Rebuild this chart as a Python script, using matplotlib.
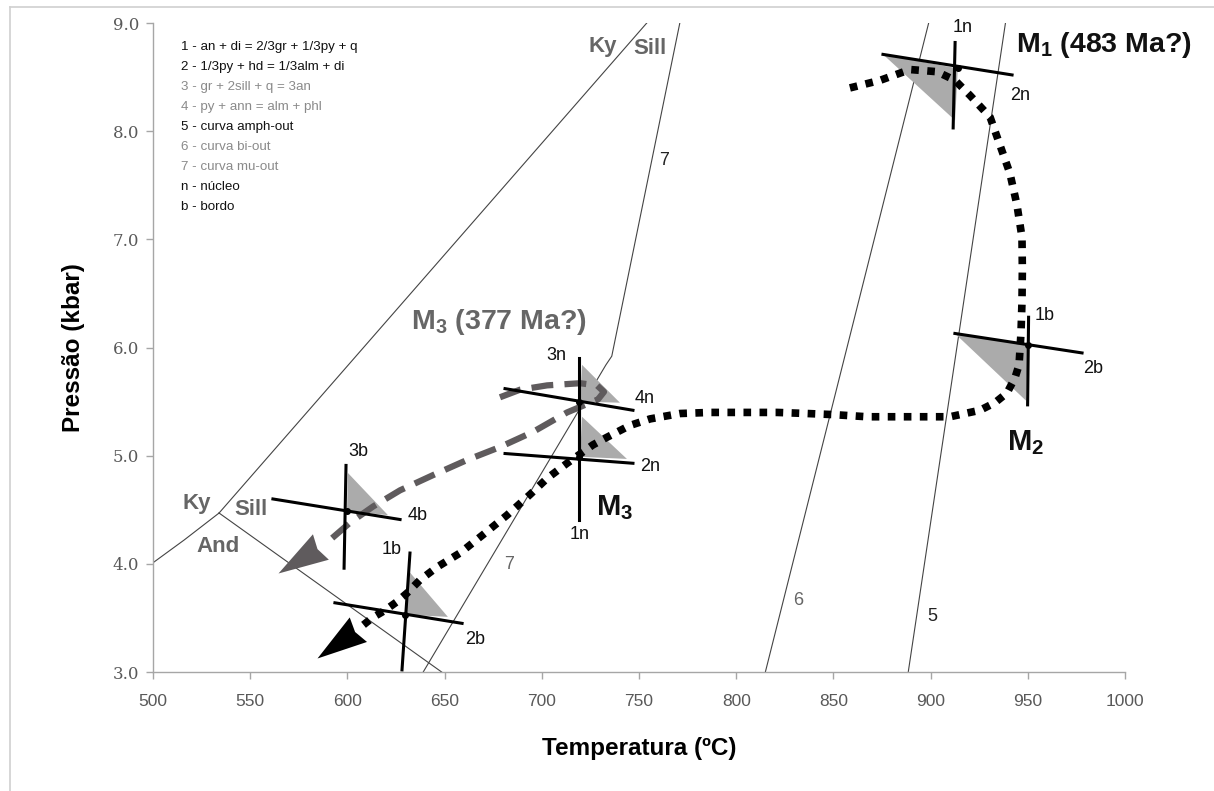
import numpy as np
import matplotlib
matplotlib.use('Agg')
import matplotlib.pyplot as plt
from matplotlib.lines import Line2D
from matplotlib.markers import MarkerStyle
from matplotlib.path import Path
from matplotlib.transforms import Affine2D

plt.rcParams['font.family'] = ['Liberation Sans', 'DejaVu Sans']
plt.rcParams['mathtext.fontset'] = 'custom'
plt.rcParams['mathtext.rm'] = 'Liberation Sans'
plt.rcParams['mathtext.bf'] = 'Liberation Sans:bold'

# ---- dados ----
x_ticks = [500, 550, 600, 650, 700, 750, 800, 850, 900, 950, 1000]
y_ticks = [3.0, 4.0, 5.0, 6.0, 7.0, 8.0, 9.0]

# curvas de reação (T, P)
ky_and_T, ky_and_P = [500, 516, 534], [4.01, 4.22, 4.47]
ky_sill_T, ky_sill_P = [534, 754], [4.47, 9.0]
sill_and_T, sill_and_P = [534, 648.5], [4.47, 3.0]
c7_T, c7_P = [639, 733, 736, 771], [3.0, 5.84, 5.92, 9.0]
c6_T, c6_P = [815, 899], [3.0, 9.0]
c5_T, c5_P = [888.5, 938.5], [3.0, 9.0]

# trajetória M1 -> M2 -> M3 (pontilhada)
path_T = [858.5, 874.0, 889.4, 903.3, 912.6, 920.3, 930.6, 935.7, 940.8, 944.4,
          947.0, 947.2, 947.0, 946.5, 945.5, 943.4, 939.3, 933.1, 925.4, 910.0,
          884.3, 867.3, 849.8, 836.4, 821.0, 803.5, 786.5, 771.1, 755.7, 745.4,
          733.5, 726.3, 713.0, 702.7, 693.9, 682.1, 669.8, 657.9, 646.1, 637.3,
          630.7, 625.5, 619.3, 612.7, 606.5]
path_P = [8.40, 8.47, 8.57, 8.55, 8.47, 8.33, 8.13, 7.87, 7.61, 7.32,
          7.02, 6.72, 6.42, 6.14, 5.84, 5.72, 5.58, 5.49, 5.42, 5.36,
          5.36, 5.36, 5.38, 5.39, 5.40, 5.40, 5.40, 5.39, 5.34, 5.28,
          5.17, 5.10, 4.93, 4.79, 4.64, 4.45, 4.27, 4.10, 3.97, 3.85,
          3.73, 3.65, 3.57, 3.50, 3.41]
path_tip = (584.4, 3.13)

# trajetória M3 (tracejada cinza)
dash_T = [678.5, 688.8, 702.7, 719.7, 728.4, 732.0, 728.9, 713.0, 695.5, 678.5,
          661.5, 644.0, 627.1, 613.2, 601.3, 591.0]
dash_P = [5.54, 5.61, 5.65, 5.67, 5.65, 5.59, 5.52, 5.40, 5.22, 5.08,
          4.96, 4.82, 4.68, 4.53, 4.38, 4.22]
dash_tip = (564.3, 3.92)

# barras (vertical: topo/base, horizontal: esq/dir) e triângulos
cross_vert = [[(912.6, 8.82), (911.6, 8.03)],
              [(950.4, 6.28), (949.9, 5.47)],
              [(719.1, 5.90), (719.1, 5.00)],
              [(719.1, 5.50), (719.1, 4.41)],
              [(599.3, 4.91), (598.3, 3.96)],
              [(632.2, 4.10), (628.1, 3.02)]]
cross_horz = [[(875.5, 8.71), (941.9, 8.52)],
              [(912.5, 6.13), (977.9, 5.95)],
              [(681.1, 5.62), (746.9, 5.42)],
              [(681.1, 5.02), (746.9, 4.93)],
              [(561.7, 4.60), (627.1, 4.41)],
              [(593.6, 3.64), (659.0, 3.45)]]
cross_center = [(914.0, 8.58), (950.1, 6.02), (719.4, 5.50),
                (719.4, 4.99), (599.8, 4.49), (629.6, 3.53)]
triangles = [[(875.5, 8.71), (914.0, 8.58), (912.6, 8.10)],
             [(912.5, 6.13), (950.1, 6.02), (949.0, 5.51)],
             [(720.7, 5.84), (719.7, 5.50), (740.2, 5.49)],
             [(720.7, 5.36), (719.7, 4.99), (743.8, 4.97)],
             [(600.3, 4.84), (599.8, 4.49), (620.9, 4.45)],
             [(632.2, 3.92), (629.6, 3.53), (651.7, 3.51)]]

cross_labels = ['1n', '2n', '1b', '2b', '3n', '4n', '2n', '1n', '3b', '4b', '1b', '2b']
cross_label_pos = [(916.7, 8.96), (946.0, 8.33), (958.9, 6.30), (983.5, 5.81),
                   (707.3, 5.93), (753.1, 5.53), (755.7, 4.90), (719.7, 4.27),
                   (605.5, 5.04), (636.3, 4.45), (622.9, 4.13), (665.6, 3.30)]

legend_items = ['1 - an + di = 2/3gr + 1/3py + q',
                '2 - 1/3py + hd = 1/3alm + di',
                '3 - gr + 2sill + q = 3an',
                '4 - py + ann = alm + phl',
                '5 - curva amph-out',
                '6 - curva bi-out',
                '7 - curva mu-out',
                'n - núcleo',
                'b - bordo']
legend_colors = ['#111111', '#111111', '#8a8a8a', '#8a8a8a', '#111111',
                 '#8a8a8a', '#8a8a8a', '#111111', '#111111']

# ---- figura ----
fig = plt.figure(figsize=(12.14, 7.91), dpi=100)
ax = fig.add_axes([0.126, 0.1504, 0.8007, 0.8205])
ax.set_xlim(500, 1000)
ax.set_ylim(3.0, 9.0)

# moldura externa
fig.add_artist(Line2D([10/1214, 10/1214], [0, 784/791], color='#d0d0d0', lw=1.2))
fig.add_artist(Line2D([10/1214, 1], [784/791, 784/791], color='#d0d0d0', lw=1.2))

for s in ['top', 'right']:
    ax.spines[s].set_visible(False)
for s in ['left', 'bottom']:
    ax.spines[s].set_color('#a6a6a6')
    ax.spines[s].set_linewidth(1.0)
ax.tick_params(colors='#a6a6a6', length=5, width=1.0, direction='out')
ax.set_xticks(x_ticks)
ax.set_yticks(y_ticks)
ax.set_xticklabels([str(v) for v in x_ticks], fontsize=12.5, color='#595959')
ax.set_yticklabels(['%.1f' % v for v in y_ticks], fontsize=12, color='#595959',
                   family=['DejaVu Serif'])
ax.tick_params(axis='x', pad=11)
ax.tick_params(axis='y', pad=5)
ax.set_xlabel('Temperatura (ºC)', fontsize=17.5, fontweight='bold', labelpad=20)
ax.set_ylabel('Pressão (kbar)', fontsize=17.5, fontweight='bold', labelpad=20)

# curvas de reação
thin = dict(color='#444444', lw=0.8, zorder=1)
ax.plot(ky_and_T, ky_and_P, **thin)
ax.plot(ky_sill_T, ky_sill_P, **thin)
ax.plot(sill_and_T, sill_and_P, **thin)
ax.plot(c7_T, c7_P, **thin)
ax.plot(c6_T, c6_P, **thin)
ax.plot(c5_T, c5_P, **thin)

# triângulos
for tri in triangles:
    ax.fill([p[0] for p in tri], [p[1] for p in tri], color='#ababab', lw=0, zorder=2)

# ponta de seta (tipo "stealth")
head = Path([(0, 0), (-1.0, 0.3), (-0.92, 0), (-1.0, -0.3), (0, 0)],
            [Path.MOVETO, Path.LINETO, Path.LINETO, Path.LINETO, Path.CLOSEPOLY])


def arrow_head(tip, tail, color):
    a = ax.transData.transform(tail)
    b = ax.transData.transform(tip)
    ang = np.degrees(np.arctan2(b[1] - a[1], b[0] - a[0]))
    m = MarkerStyle(head, transform=Affine2D().rotate_deg(ang))
    ax.plot([tip[0]], [tip[1]], marker=m, ms=72, color=color, mew=0, ls='none', zorder=3)


# trajetórias
ax.plot(path_T, path_P, color='black', lw=5.5, linestyle=(0, (1, 1.1)),
        dash_capstyle='butt', zorder=3)
arrow_head(path_tip, (path_T[-1], path_P[-1]), 'black')
ax.plot(dash_T, dash_P, color='#5f5b5d', lw=4.5, linestyle=(0, (3.5, 1.8)),
        dash_capstyle='butt', zorder=3)
arrow_head(dash_tip, (dash_T[-1], dash_P[-1]), '#5f5b5d')

# barras de erro
for v, h, c in zip(cross_vert, cross_horz, cross_center):
    ax.plot([v[0][0], v[1][0]], [v[0][1], v[1][1]], color='black', lw=2.2, zorder=4)
    ax.plot([h[0][0], h[1][0]], [h[0][1], h[1][1]], color='black', lw=2.2, zorder=4)
    ax.plot(c[0], c[1], 'o', color='black', ms=4, zorder=5)

for lab, (tx, py) in zip(cross_labels, cross_label_pos):
    ax.text(tx, py, lab, fontsize=13, color='#111111', ha='center', va='center', zorder=6)

# campos de estabilidade
phase = dict(fontsize=16, fontweight='bold', color='#666666', ha='center', va='center')
ax.text(731.5, 8.78, 'Ky', **phase)
ax.text(755.7, 8.76, 'Sill', **phase)
ax.text(522.6, 4.56, 'Ky', **phase)
ax.text(550.5, 4.50, 'Sill', **phase)
ax.text(533.5, 4.16, 'And', **phase)

# números das curvas
ax.text(762.9, 7.73, '7', fontsize=13, color='#222222', ha='center', va='center')
ax.text(683.1, 3.99, '7', fontsize=13, color='#666666', ha='center', va='center')
ax.text(831.8, 3.66, '6', fontsize=13, color='#666666', ha='center', va='center')
ax.text(900.7, 3.51, '5', fontsize=13, color='#222222', ha='center', va='center')

# eventos metamórficos
ax.text(944.0, 8.80, r'$\mathbf{M_1}$ (483 Ma?)', fontsize=20.5, fontweight='bold',
        color='#111111', ha='left', va='center')
ax.text(632.5, 6.24, r'$\mathbf{M_3}$ (377 Ma?)', fontsize=20.5, fontweight='bold',
        color='#666666', ha='left', va='center')
ax.text(939.5, 5.12, r'$\mathbf{M_2}$', fontsize=21, fontweight='bold',
        color='#111111', ha='left', va='center')
ax.text(728.0, 4.52, r'$\mathbf{M_3}$', fontsize=21, fontweight='bold',
        color='#111111', ha='left', va='center')

# legenda
for i, (txt, col) in enumerate(zip(legend_items, legend_colors)):
    ax.text(514.4, 8.78 - i * 0.185, txt, fontsize=9.6, color=col, ha='left', va='center')

fig.savefig('out.png', dpi=100)
